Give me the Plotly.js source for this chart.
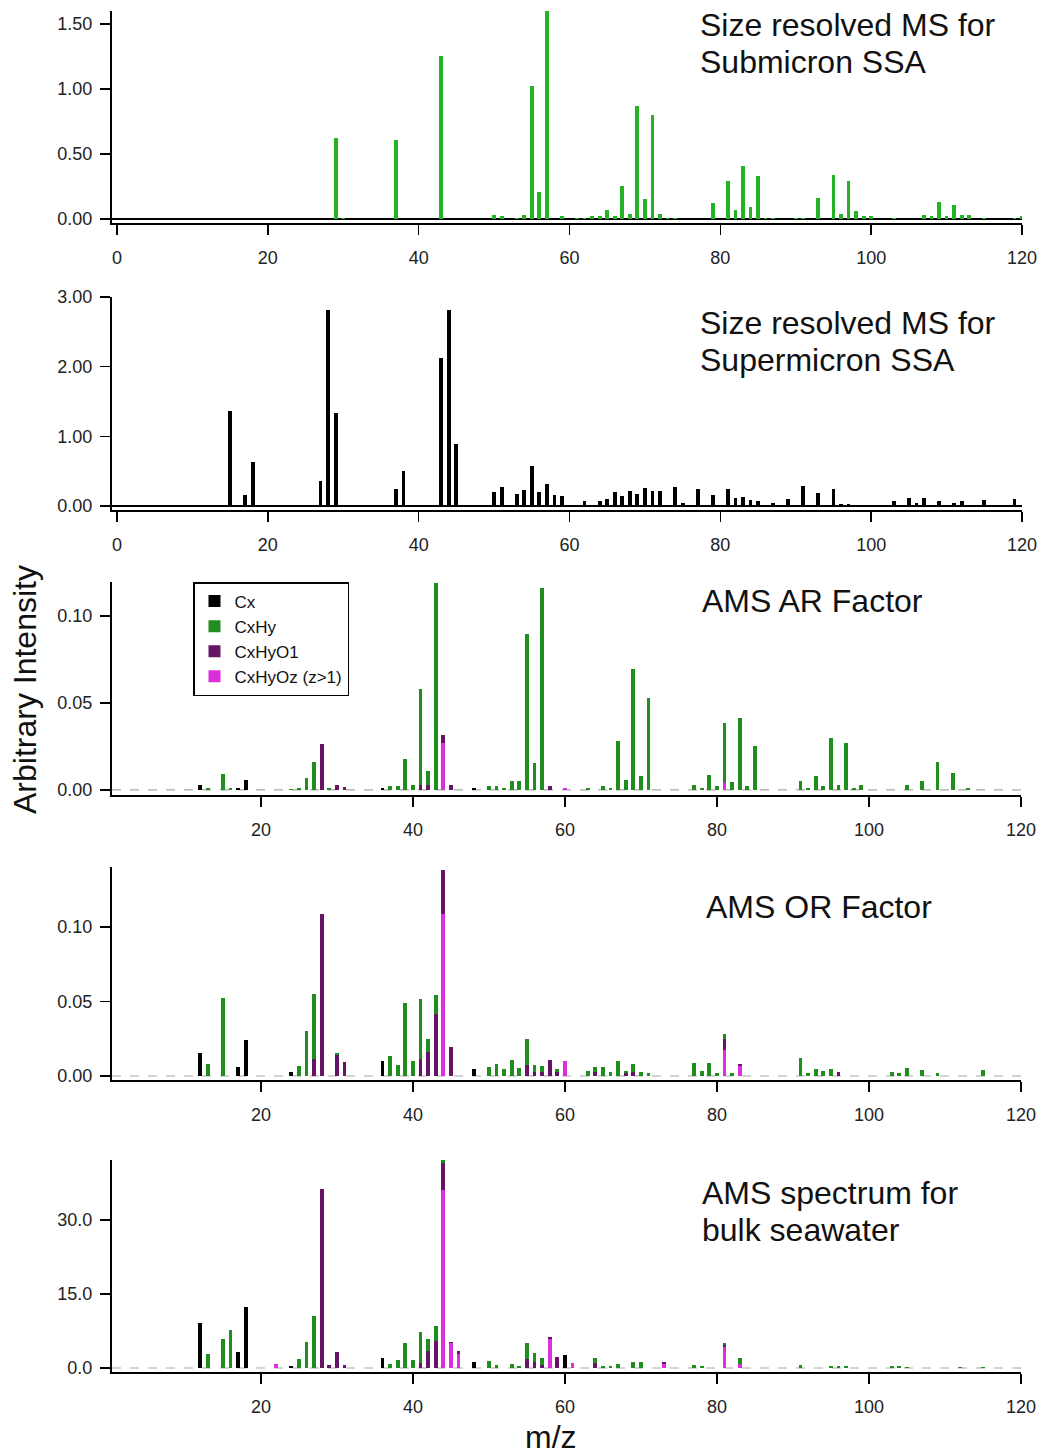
<!DOCTYPE html>
<html>
<head>
<meta charset="utf-8">
<script src="https://cdn.plot.ly/plotly-3.0.1.min.js"></script>
<style>html,body{margin:0;padding:0;background:#fff;}#chart{width:1040px;height:1454px;}</style>
</head>
<body>
<div id="chart"></div>
<script>
// ---------- Panel 1: Size resolved MS for Submicron SSA ----------
const subMz  = [29,30,37,43,50,51,53,54,55,56,57,59,61,62,63,64,65,66,67,68,69,70,71,72,73,74,79,81,82,83,84,85,86,87,90,91,93,95,96,97,98,99,100,103,107,108,109,110,111,112,113,115,119,120];
const subVal = [0.62,0.01,0.61,1.25,0.03,0.02,0.01,0.03,1.02,0.21,1.60,0.02,0.01,0.01,0.02,0.02,0.07,0.02,0.25,0.04,0.87,0.15,0.80,0.04,0.01,0.01,0.12,0.29,0.07,0.41,0.09,0.33,0.01,0.01,0.01,0.01,0.16,0.34,0.04,0.29,0.06,0.02,0.02,0.01,0.03,0.02,0.13,0.02,0.11,0.03,0.03,0.01,0.01,0.02];

// ---------- Panel 2: Size resolved MS for Supermicron SSA ----------
const supMz  = [15,16,17,18,27,28,29,30,37,38,42,43,44,45,50,51,52,53,54,55,56,57,58,59,61,62,63,64,65,66,67,68,69,70,71,72,73,74,75,77,79,81,82,83,84,85,87,89,91,93,95,96,97,99,103,105,106,107,109,111,112,115,119];
const supVal = [1.37,0.01,0.16,0.63,0.36,2.81,1.34,0.02,0.24,0.50,0.02,2.12,2.81,0.89,0.20,0.28,0.02,0.17,0.23,0.58,0.20,0.32,0.16,0.14,0.02,0.07,0.02,0.07,0.10,0.20,0.15,0.22,0.17,0.26,0.21,0.22,0.02,0.28,0.04,0.25,0.16,0.24,0.12,0.13,0.08,0.07,0.04,0.10,0.29,0.19,0.24,0.03,0.03,0.02,0.07,0.11,0.04,0.11,0.07,0.05,0.07,0.08,0.10];

// ---------- Panel 3: AMS AR Factor ----------
const arCxMz   = [12,17,18,36,48];
const arCx     = [0.0029,0.001,0.006,0.001,0.001];
const arHyMz   = [13,15,16,24,25,26,27,29,37,38,39,40,41,42,43,50,51,52,53,54,55,56,57,63,65,66,67,68,69,70,71,77,78,79,80,81,82,83,84,85,91,92,93,94,95,96,97,98,99,105,107,109,111,113];
const arHy     = [0.001,0.0094,0.001,0.0005,0.001,0.0067,0.0163,0.001,0.002,0.002,0.018,0.003,0.055,0.008,0.119,0.002,0.002,0.001,0.005,0.005,0.0895,0.0157,0.116,0.001,0.002,0.001,0.0284,0.0057,0.0694,0.0082,0.053,0.003,0.001,0.0086,0.002,0.0345,0.0048,0.0416,0.002,0.0255,0.0054,0.001,0.0079,0.002,0.030,0.003,0.027,0.001,0.003,0.003,0.005,0.0163,0.0096,0.001];
const arO1Mz   = [28,30,31,41,42,44,45,58];
const arO1     = [0.0265,0.003,0.0015,0.003,0.003,0.0046,0.003,0.002];
const arOzMz   = [44,60,81];
const arOz     = [0.027,0.001,0.004];

// ---------- Panel 4: AMS OR Factor ----------
const orCxMz   = [12,17,18,24,36,48];
const orCx     = [0.0152,0.006,0.0242,0.0025,0.0098,0.0045];
const orHyMz   = [13,15,25,26,27,30,37,38,39,40,41,42,43,50,51,52,53,54,55,56,57,59,63,64,65,66,67,68,69,70,71,77,78,79,80,81,82,91,92,93,94,95,103,104,105,107,109,115];
const orHy     = [0.0078,0.0526,0.0067,0.0304,0.0434,0.001,0.0134,0.0076,0.0488,0.0098,0.0405,0.0087,0.0123,0.0058,0.008,0.0045,0.0107,0.0054,0.0174,0.0046,0.0037,0.002,0.0034,0.0033,0.0058,0.003,0.0098,0.0016,0.005,0.0025,0.002,0.0087,0.0036,0.0087,0.002,0.0036,0.002,0.012,0.002,0.0047,0.0034,0.0047,0.0025,0.002,0.0054,0.004,0.002,0.0043];
const orO1Mz   = [27,28,30,31,41,42,43,44,45,55,56,57,58,59,64,68,69,81,83,96];
const orO1     = [0.0114,0.1085,0.0142,0.0096,0.0112,0.0161,0.0418,0.0293,0.0192,0.0074,0.003,0.003,0.0107,0.0025,0.003,0.002,0.003,0.0074,0.001,0.0025];
const orOzMz   = [44,60,81,83];
const orOz     = [0.1087,0.0098,0.0174,0.0068];

// ---------- Panel 5: AMS spectrum for bulk seawater ----------
const swCxMz   = [12,17,18,24,36,48,60];
const swCx     = [9.1,3.2,12.3,0.5,2.1,1.3,2.7];
const swHyMz   = [13,15,16,25,26,27,37,38,39,40,41,42,43,44,50,51,53,54,55,56,57,64,65,66,67,69,70,77,78,81,83,91,95,96,97,103,104,105,112,115];
const swHy     = [2.8,5.9,7.7,1.8,5.3,10.5,0.9,1.6,5.1,1.6,6.2,2.4,3.1,0.7,1.5,0.6,0.9,0.5,3.3,1.8,1.4,1.0,0.5,0.5,0.8,1.3,1.3,0.7,0.5,0.4,1.2,0.6,0.5,0.5,0.5,0.4,0.4,0.3,0.3,0.3];
const swO1Mz   = [28,29,30,31,41,42,43,44,45,46,55,56,57,58,59,64,73,81];
const swO1     = [36.2,0.7,3.2,0.7,1.0,3.4,5.5,5.4,0.3,0.7,1.8,1.2,0.7,0.4,2.3,1.0,0.4,0.5];
const swOzMz   = [22,44,45,46,58,61,73,81,83];
const swOz     = [0.9,36.1,5.0,2.8,5.8,1.1,0.8,4.2,0.8];

// ---------- labels ----------
const seriesNames = ['Cx','CxHy','CxHyO1','CxHyOz (z>1)'];
const panelTitles = [
  ['Size resolved MS for','Submicron SSA'],
  ['Size resolved MS for','Supermicron SSA'],
  ['AMS AR Factor'],
  ['AMS OR Factor'],
  ['AMS spectrum for','bulk seawater']
];
const yTitle = 'Arbitrary Intensity';
const xTitle = 'm/z';

// ---------- styling ----------
const C_SUB = '#22b422', C_SUP = '#000000';
const C_CX = '#000000', C_HY = '#1f8e1f', C_O1 = '#661466', C_OZ = '#dd2edd';
const BW = 0.5;
const FONT = 'Liberation Sans, Arial, sans-serif';
const H = 1454, W = 1040;
const TICKF = 18, TITLEF = 32;

const traces = [];
traces.push({type:'bar', x:subMz, y:subVal, width:BW, marker:{color:C_SUB}, xaxis:'x', yaxis:'y', showlegend:false});
traces.push({type:'bar', x:supMz, y:supVal, width:BW, marker:{color:C_SUP}, xaxis:'x2', yaxis:'y2', showlegend:false});

const ams = [
  {ax:'3', cx:[arCxMz,arCx], hy:[arHyMz,arHy], o1:[arO1Mz,arO1], oz:[arOzMz,arOz]},
  {ax:'4', cx:[orCxMz,orCx], hy:[orHyMz,orHy], o1:[orO1Mz,orO1], oz:[orOzMz,orOz]},
  {ax:'5', cx:[swCxMz,swCx], hy:[swHyMz,swHy], o1:[swO1Mz,swO1], oz:[swOzMz,swOz]},
];
ams.forEach((p,i)=>{
  const common = {type:'bar', width:BW, xaxis:'x'+p.ax, yaxis:'y'+p.ax};
  const first = (i===0);
  traces.push(Object.assign({}, common, {x:p.oz[0], y:p.oz[1], name:seriesNames[3], legendgroup:'oz', showlegend:first, marker:{color:C_OZ}}));
  traces.push(Object.assign({}, common, {x:p.o1[0], y:p.o1[1], name:seriesNames[2], legendgroup:'o1', showlegend:first, marker:{color:C_O1}}));
  traces.push(Object.assign({}, common, {x:p.hy[0], y:p.hy[1], name:seriesNames[1], legendgroup:'hy', showlegend:first, marker:{color:C_HY}}));
  traces.push(Object.assign({}, common, {x:p.cx[0], y:p.cx[1], name:seriesNames[0], legendgroup:'cx', showlegend:first, marker:{color:C_CX}}));
});

function dom(topPx, botPx){ return [1 - botPx/H, 1 - topPx/H]; }
function xax(range, domain, anchor){
  return {range:range, domain:domain, anchor:anchor, showline:true, linecolor:'#000', linewidth:2,
    ticks:'outside', ticklen:10, tickwidth:1.5, tickcolor:'#000', tick0:0, dtick:20,
    showgrid:false, zeroline:false, ticklabelstandoff:7,
    tickfont:{family:FONT, size:TICKF, color:'#222'}};
}
function yax(range, domain, anchor, dtick, fmt, zl){
  return {range:range, domain:domain, anchor:anchor, showline:true, linecolor:'#000', linewidth:2,
    ticks:'outside', ticklen:10, tickwidth:1.5, tickcolor:'#000', dtick:dtick, tick0:0, tickformat:fmt,
    showgrid:false, zeroline:zl, zerolinecolor:'#000', zerolinewidth:2, ticklabelstandoff:4,
    tickfont:{family:FONT, size:TICKF, color:'#222'}};
}
const xd1 = [112/W, 1022/W], xd3 = [112/W, 1021/W];

function txt(t, xPx, yPx, extra){
  return Object.assign({text:t, xref:'paper', yref:'paper', x:xPx/W, y:1-yPx/H, xanchor:'left', yanchor:'middle',
    showarrow:false, font:{family:FONT, size:TITLEF, color:'#111'}}, extra||{});
}
const titlePos = [[698,[25,62]],[698,[323,360]],[700,[601]],[704,[907]],[700,[1193,1230]]];
const annotations = [];
panelTitles.forEach((lines,i)=>{
  lines.forEach((ln,j)=> annotations.push(txt(ln, titlePos[i][0], titlePos[i][1][j])));
});
annotations.push(txt(yTitle, 25, 690, {xanchor:'center', textangle:-90}));
annotations.push(txt(xTitle, 551, 1437, {xanchor:'center'}));

const layout = {
  width:W, height:H, margin:{l:0,r:0,t:0,b:0}, paper_bgcolor:'#fff', plot_bgcolor:'#fff',
  barmode:'stack', bargap:0, font:{family:FONT, color:'#111'},
  xaxis:  xax([-0.66,120], xd1, 'y'),
  yaxis:  yax([-0.031,1.6], dom(11,223), 'x', 0.5, '.2f', true),
  xaxis2: xax([-0.66,120], xd1, 'y2'),
  yaxis2: yax([-0.057,3.0], dom(297,510), 'x2', 1, '.2f', true),
  xaxis3: xax([0.4,120], xd3, 'y3'),
  yaxis3: yax([-0.0029,0.1195], dom(582,795), 'x3', 0.05, '.2f', false),
  xaxis4: xax([0.4,120], xd3, 'y4'),
  yaxis4: yax([-0.0027,0.1403], dom(867,1080), 'x4', 0.05, '.2f', false),
  xaxis5: xax([0.4,120], xd3, 'y5'),
  yaxis5: yax([-0.81,42.16], dom(1160,1372), 'x5', 15, '.1f', false),
  showlegend:true,
  legend:{x:193/W, y:1-582/H, xanchor:'left', yanchor:'top', traceorder:'reversed',
    bgcolor:'#fff', bordercolor:'#000', borderwidth:1.5, font:{family:FONT, size:17, color:'#111'},
    tracegroupgap:0, itemwidth:30},
  shapes:['3','4','5'].map(a=>({type:'line', xref:'x'+a+' domain', x0:0, x1:1, yref:'y'+a, y0:0, y1:0,
    line:{color:'#aaaaaa', width:1.2, dash:'dash'}, layer:'below'})),
  annotations:annotations
};

Plotly.newPlot('chart', traces, layout, {displayModeBar:false, staticPlot:true});
</script>
</body>
</html>
